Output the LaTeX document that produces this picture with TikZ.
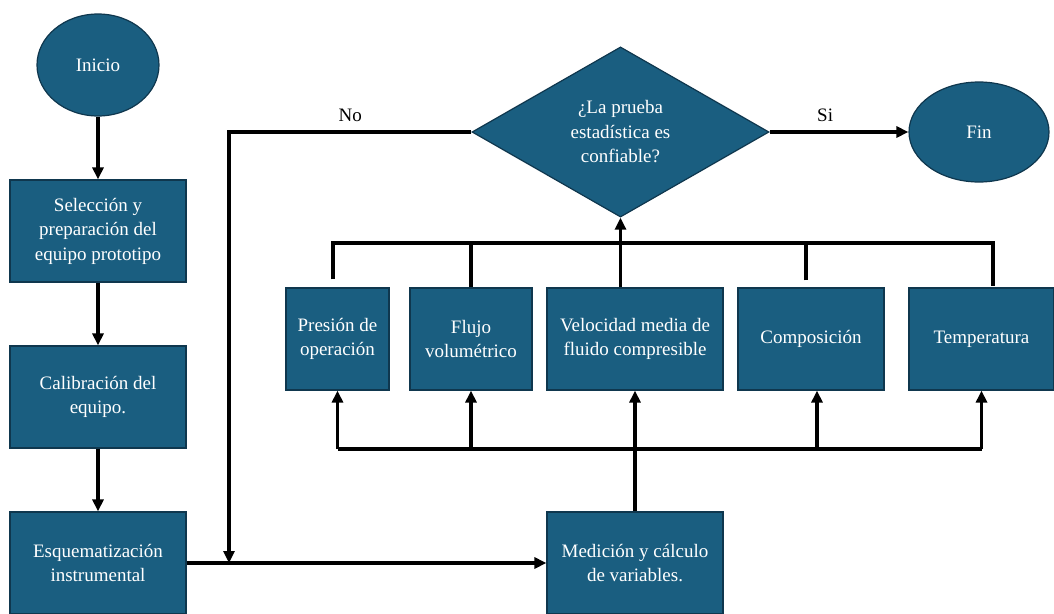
\documentclass[tikz,border=0pt]{standalone}
\usepackage{fontspec}
\setmainfont{Liberation Serif}
\usetikzlibrary{shapes.geometric,arrows.meta}
\definecolor{flowfill}{RGB}{26,94,128}
\definecolor{flowedge}{RGB}{15,55,78}
\tikzset{
  flowbox/.style={draw=flowedge,fill=flowfill,line width=1.2pt,text=white,align=center,minimum height=102pt,inner sep=2pt},
  flowend/.style={flowbox,ellipse},
  flowtest/.style={flowbox,diamond,minimum width=297pt,minimum height=165pt},
  link/.style={line width=3.7pt},
  linkarrow/.style={link,-{Triangle[length=12pt,width=11pt]}}
}
\begin{document}
\begin{tikzpicture}[x=1pt,y=-1pt,font=\fontsize{19pt}{24.5pt}\selectfont]
\useasboundingbox (0,0) rectangle (1054,613);

\node[flowend,minimum width=122pt] (inicio) at (98,65) {Inicio};
\node[flowbox,minimum width=176pt] (seleccion) at (98,231) {Selección y\\preparación del\\equipo prototipo};
\node[flowbox,minimum width=176pt] (calibracion) at (98,397) {Calibración del\\equipo.};
\node[flowbox,minimum width=176pt] (esquema) at (98,563) {Esquematización\\instrumental};
\node[flowbox,minimum width=176pt] (medicion) at (635,563) {Medición y cálculo\\de variables.};

\node[flowbox,minimum width=103pt] (presion) at (337.5,339) {Presión de\\operación};
\node[flowbox,minimum width=122pt] (flujo) at (471,339) {Flujo\\volumétrico};
\node[flowbox,minimum width=176pt] (velocidad) at (635,339) {Velocidad media de\\fluido compresible};
\node[flowbox,minimum width=146pt] (composicion) at (811,339) {Composición};
\node[flowbox,minimum width=145pt] (temperatura) at (981.5,339) {Temperatura};

\node[flowtest] (prueba) at (620.5,132) {¿La prueba\\estadística es\\confiable?};
\node[flowend,minimum width=140pt,minimum height=100pt] (fin) at (979,132) {Fin};

\coordinate (nojoin) at (229,563);
\coordinate (bustop) at (620.5,243);
\coordinate (busbot) at (635,449);
\coordinate (prestop) at ([xshift=-4.5pt,yshift=8pt]presion.north);
\coordinate (comptop) at ([xshift=-5pt,yshift=7pt]composicion.north);
\coordinate (temptop) at ([xshift=11.5pt,yshift=1pt]temperatura.north);
\coordinate (compbot) at ([xshift=6pt]composicion.south);

\draw[linkarrow] (inicio) -- (seleccion);
\draw[linkarrow] (seleccion) -- (calibracion);
\draw[linkarrow] (calibracion) -- (esquema);
\draw[linkarrow] (esquema) -- (medicion);
\draw[linkarrow] (medicion) -- (velocidad);

\draw[link] (presion.south |- busbot) -- (temperatura.south |- busbot);
\draw[linkarrow] (presion.south |- busbot) -- (presion.south);
\draw[linkarrow] (flujo.south |- busbot) -- (flujo.south);
\draw[linkarrow] (compbot |- busbot) -- (compbot);
\draw[linkarrow] (temperatura.south |- busbot) -- (temperatura.south);

\draw[link] (prestop) |- (bustop) -| (temptop);
\draw[link] (flujo.north) -- (flujo.north |- bustop);
\draw[link] (comptop) -- (comptop |- bustop);
\draw[linkarrow] (velocidad.north -| prueba.south) -- (prueba.south);

\draw[linkarrow] (prueba.west) -| node[pos=0.25,above,yshift=5pt] {No} (nojoin);
\draw[linkarrow] (prueba.east) -- node[pos=0.4,above,yshift=5pt] {Si} (fin);
\end{tikzpicture}
\end{document}
